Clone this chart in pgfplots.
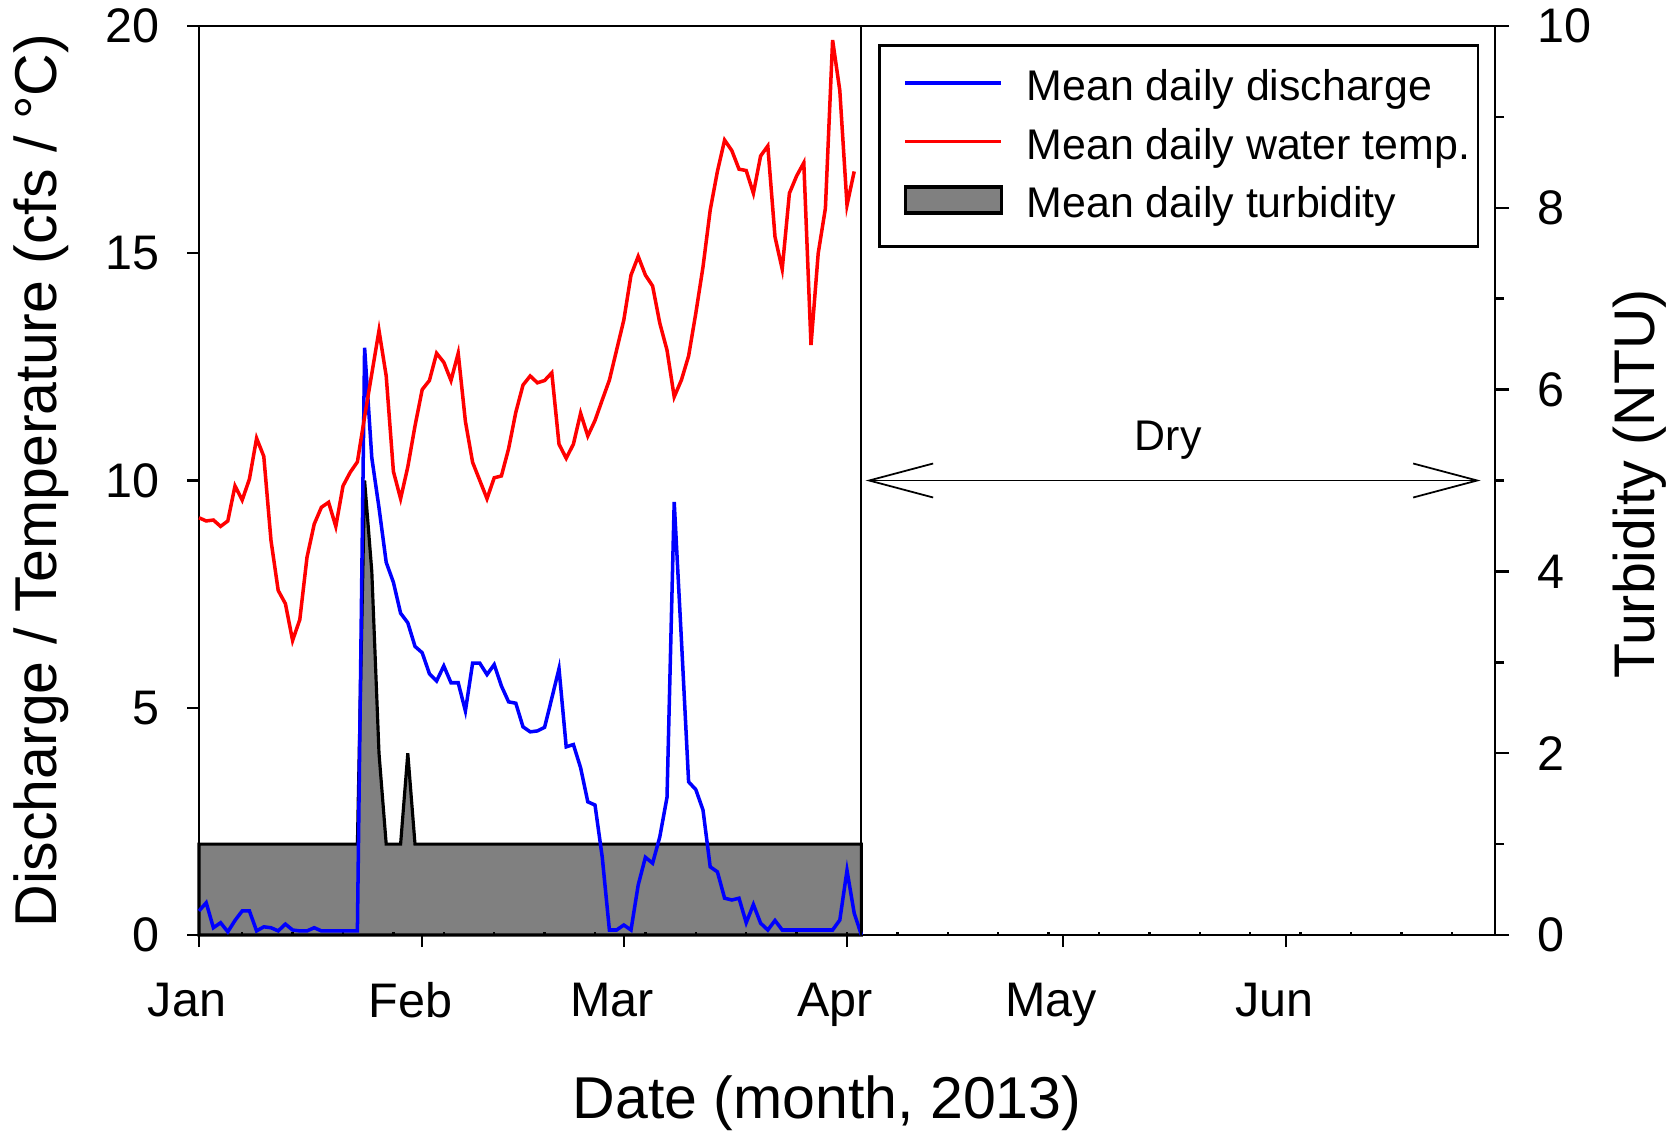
\documentclass[border=0pt]{standalone}
\usepackage{fontspec}
\setmainfont{Liberation Sans}
\usepackage{pgfplots}
\usepackage{pgfplotstable}
\pgfplotsset{compat=1.18}
\usetikzlibrary{arrows.meta}
\definecolor{turbgray}{RGB}{128,128,128}
\newcommand\ticksize{\fontsize{13.8pt}{16pt}\selectfont}
\newcommand\legsize{\fontsize{12.2pt}{14pt}\selectfont}
\newcommand\labsize{\fontsize{16.8pt}{19pt}\selectfont}

\pgfplotsset{
  mylineleg/.style={legend image code/.code={\path (-0.16cm,-0.18cm) (0.96cm,0.18cm);
    \draw[##1] (0cm,0.045cm) -- (0.96cm,0.045cm);}},
  myarealeg/.style={legend image code/.code={\path (-0.16cm,-0.18cm) (0.96cm,0.18cm);
    \draw[##1] (0cm,-0.085cm) rectangle (0.96cm,0.175cm);}},
}

\pgfplotstableread{
day q
0 0.53
1 0.71
2 0.16
3 0.27
4 0.07
5 0.32
6 0.53
7 0.53
8 0.09
9 0.18
10 0.16
11 0.09
12 0.24
13 0.11
14 0.09
15 0.09
16 0.16
17 0.09
18 0.09
19 0.09
20 0.09
21 0.09
22 0.09
23 12.92
24 10.5
25 9.4
26 8.2
27 7.76
28 7.08
29 6.87
30 6.35
31 6.21
32 5.75
33 5.59
34 5.92
35 5.55
36 5.55
37 4.93
38 5.98
39 5.98
40 5.73
41 5.95
42 5.48
43 5.13
44 5.10
45 4.58
46 4.47
47 4.49
48 4.57
49 5.21
50 5.86
51 4.14
52 4.19
53 3.68
54 2.93
55 2.86
56 1.72
57 0.11
58 0.11
59 0.22
60 0.11
61 1.10
62 1.71
63 1.58
64 2.16
65 3.03
66 9.53
67 6.5
68 3.37
69 3.20
70 2.75
71 1.50
72 1.39
73 0.81
74 0.77
75 0.81
76 0.27
77 0.67
78 0.26
79 0.11
80 0.32
81 0.11
82 0.11
83 0.11
84 0.11
85 0.11
86 0.11
87 0.11
88 0.11
89 0.33
90 1.42
91 0.48
92 0.0
}\discharge

\pgfplotstableread{
day t
0 9.18
1 9.11
2 9.13
3 8.99
4 9.11
5 9.88
6 9.57
7 10.03
8 10.93
9 10.53
10 8.68
11 7.58
12 7.29
13 6.48
14 6.94
15 8.31
16 9.04
17 9.41
18 9.52
19 8.99
20 9.88
21 10.18
22 10.41
23 11.4
24 12.35
25 13.3
26 12.3
27 10.2
28 9.6
29 10.3
30 11.2
31 12.0
32 12.2
33 12.8
34 12.6
35 12.2
36 12.8
37 11.3
38 10.4
39 10.0
40 9.6
41 10.06
42 10.1
43 10.7
44 11.5
45 12.1
46 12.3
47 12.15
48 12.2
49 12.37
50 10.80
51 10.49
52 10.80
53 11.48
54 10.98
55 11.32
56 11.77
57 12.21
58 12.87
59 13.53
60 14.52
61 14.93
62 14.52
63 14.28
64 13.46
65 12.87
66 11.84
67 12.21
68 12.74
69 13.68
70 14.70
71 15.95
72 16.80
73 17.49
74 17.26
75 16.85
76 16.82
77 16.32
78 17.14
79 17.36
80 15.36
81 14.65
82 16.32
83 16.70
84 16.99
85 12.98
86 15.0
87 15.99
88 19.69
89 18.58
90 16.06
91 16.80
}\temperature

\pgfplotstableread{
day ntu
0 1
1 1
2 1
3 1
4 1
5 1
6 1
7 1
8 1
9 1
10 1
11 1
12 1
13 1
14 1
15 1
16 1
17 1
18 1
19 1
20 1
21 1
22 1
23 5
24 4
25 2
26 1
27 1
28 1
29 2
30 1
31 1
32 1
33 1
34 1
35 1
36 1
37 1
38 1
39 1
40 1
41 1
42 1
43 1
44 1
45 1
46 1
47 1
48 1
49 1
50 1
51 1
52 1
53 1
54 1
55 1
56 1
57 1
58 1
59 1
60 1
61 1
62 1
63 1
64 1
65 1
66 1
67 1
68 1
69 1
70 1
71 1
72 1
73 1
74 1
75 1
76 1
77 1
78 1
79 1
80 1
81 1
82 1
83 1
84 1
85 1
86 1
87 1
88 1
89 1
90 1
91 1
92 1
}\turbidity

\begin{document}
\begin{tikzpicture}
\useasboundingbox (0,0) rectangle (16.77cm,11.31cm);

% right axis: turbidity (drawn first, so the area lies under the lines)
\begin{axis}[
  at={(1.99cm,1.96cm)}, anchor=south west,
  width=12.96cm, height=9.09cm, scale only axis,
  clip=false,
  xmin=0, xmax=180, ymin=0, ymax=10,
  axis y line=right, axis x line=none,
  axis line style={-, black, line width=0.7pt},
  ytick={0,2,4,6,8,10},
  minor ytick={1,3,5,7,9},
  tick align=outside,
  major tick length=0.14cm, minor tick length=0.09cm,
  every tick/.style={black, line width=0.7pt},
  yticklabel style={font=\ticksize, inner sep=0pt, xshift=0.28cm},
  /pgf/number format/assume math mode=true,
]
\addplot[fill=turbgray, draw=black, line width=0.9pt] table[x=day, y=ntu] {\turbidity} \closedcycle;
\node[rotate=90, anchor=north, inner sep=0pt, font=\fontsize{16.3pt}{19pt}\selectfont]
  at (axis description cs:1.0903,0.496) {Turbidity (NTU)};
\end{axis}

% left axis: discharge and temperature
\begin{axis}[
  at={(1.99cm,1.96cm)}, anchor=south west,
  width=12.96cm, height=9.09cm, scale only axis,
  clip=false,
  xmin=0, xmax=180, ymin=0, ymax=20,
  xtick={0,31,59,90,120,151},
  xticklabels={Jan,Feb,Mar,Apr,May,Jun},
  ytick={0,5,10,15,20},
  xtick pos=left, ytick pos=left,
  tick align=outside,
  major tick length=0.12cm,
  extra x ticks={6,13,...,174},
  extra x tick labels={},
  extra x tick style={tick align=inside, major tick length=0.035cm},
  every tick/.style={black, line width=0.7pt},
  axis line style={black, line width=0.7pt},
  tick label style={font=\ticksize, inner sep=0pt},
  xticklabel style={xshift=-0.12cm, yshift=-0.35cm},
  yticklabel style={xshift=-0.27cm},
  /pgf/number format/assume math mode=true,
  legend cell align=left,
  legend style={
    at={(axis description cs:0.524,0.980)}, anchor=north west,
    draw=black, line width=0.7pt, fill=white,
    inner xsep=0.08cm, inner ysep=0.225cm,
    row sep=0.19cm, column sep=0.24cm,
    font=\legsize,
    nodes={inner sep=0pt},
  },
]
\addplot[blue, line width=1.0pt, mylineleg] table[x=day, y=q] {\discharge};
\addlegendentry{Mean daily discharge}
\addplot[red, line width=1.0pt, mylineleg] table[x=day, y=t] {\temperature};
\addlegendentry{Mean daily water temp.}
\addlegendimage{fill=turbgray, draw=black, line width=0.9pt, myarealeg}
\addlegendentry{Mean daily turbidity}

\draw[black, line width=0.6pt] (axis cs:92,0) -- (axis cs:92,20);
\draw[black, line width=0.5pt,
  {Straight Barb[length=0.64cm,width=0.34cm]}-{Straight Barb[length=0.64cm,width=0.34cm]}]
  (axis cs:92.6,10) -- (axis cs:178,10);
\node[anchor=base, inner sep=0pt, font=\legsize] at (axis cs:134.6,10.65) {Dry};

\node[rotate=90, anchor=north, inner sep=0pt, font=\labsize]
  at (axis description cs:-0.1435,0.5) {Discharge / Temperature (cfs / °C)};
\node[anchor=north, inner sep=0pt, font=\labsize]
  at (axis description cs:0.4846,-0.154) {Date (month, 2013)};
\end{axis}
\end{tikzpicture}
\end{document}
